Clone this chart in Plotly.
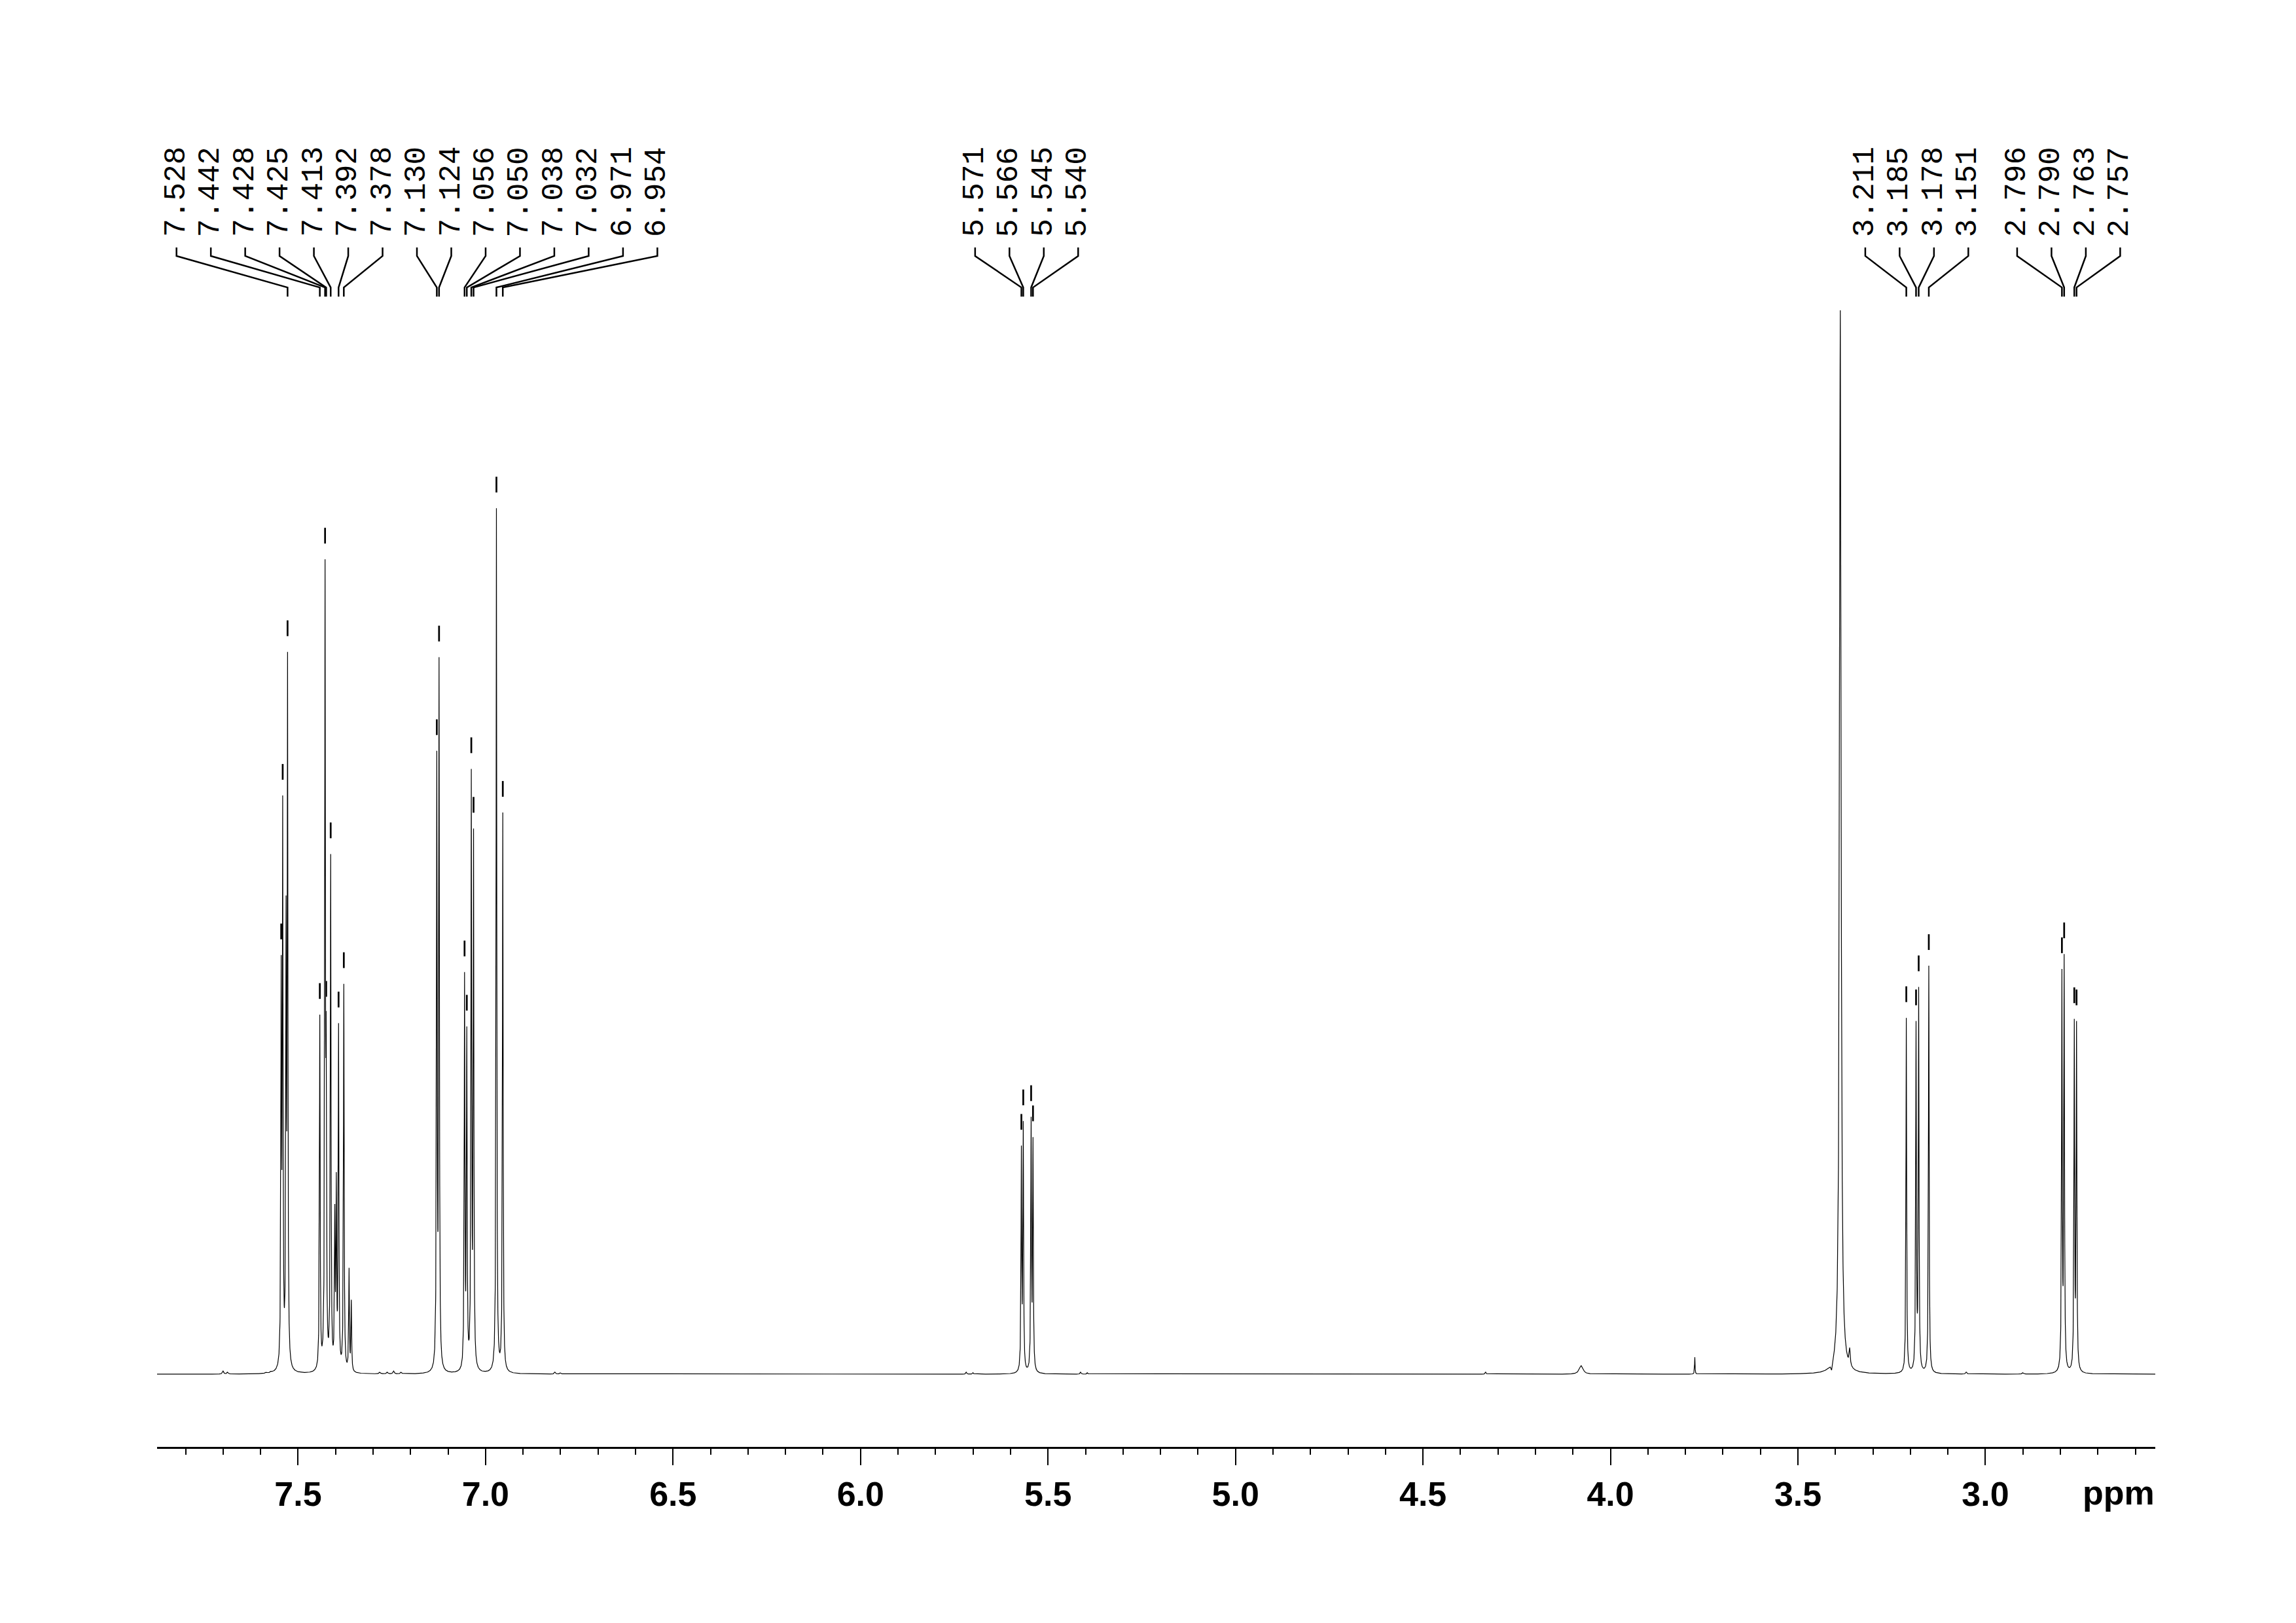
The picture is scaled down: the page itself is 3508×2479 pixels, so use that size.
import numpy as np
import plotly.graph_objects as go

# ---------------- data ----------------
# labelled (picked) multiplet lines, ppm and apparent heights (tallest peak = 1)
arom_a_ppm = [7.545, 7.541, 7.528, 7.442, 7.428, 7.425, 7.413, 7.392, 7.378]
arom_a_h   = [0.394, 0.544, 0.679, 0.338, 0.766, 0.340, 0.489, 0.330, 0.367]
arom_b_ppm = [7.130, 7.124, 7.056, 7.050, 7.038, 7.032, 6.971, 6.954]
arom_b_h   = [0.586, 0.674, 0.378, 0.327, 0.569, 0.513, 0.814, 0.528]
vinyl_ppm  = [5.571, 5.566, 5.545, 5.540]
vinyl_h    = [0.215, 0.238, 0.242, 0.223]
ch2a_ppm   = [3.211, 3.185, 3.178, 3.151]
ch2a_h     = [0.335, 0.332, 0.364, 0.384]
ch2b_ppm   = [2.796, 2.790, 2.763, 2.757]
ch2b_h     = [0.381, 0.395, 0.334, 0.332]

# unlabelled lines inside the aromatic multiplets
extra_ppm = [7.532, 7.402, 7.398, 7.364, 7.358]
extra_h   = [0.450, 0.160, 0.190, 0.100, 0.070]

# water signal and its shoulder, small impurity / baseline signals
water_ppm = [3.387, 3.362, 3.410]
water_h   = [1.000, 0.025, 0.004]
water_w   = [0.0049, 0.0035, 0.0040]
minor_ppm = [4.078, 3.775, 4.333, 5.718, 5.700, 5.413, 5.395, 7.700, 7.688,
             7.585, 7.572, 7.282, 7.262, 7.245, 7.225, 6.815, 6.800, 3.051, 2.900]
minor_h   = [0.008, 0.016, 0.002, 0.002, 0.0015, 0.002, 0.0015, 0.003, 0.002,
             0.002, 0.003, 0.002, 0.002, 0.003, 0.002, 0.002, 0.0015, 0.002, 0.0015]
minor_w   = [0.012, 0.0015, 0.003, 0.003, 0.003, 0.003, 0.003, 0.004, 0.004,
             0.004, 0.004, 0.004, 0.004, 0.004, 0.004, 0.004, 0.004, 0.004, 0.004]
line_w = 0.0021   # FWHM of the multiplet lines (ppm)

# label groups (in reference order) and the centre of each label fan
label_groups = [arom_a_ppm[2:] + arom_b_ppm, vinyl_ppm, ch2a_ppm, ch2b_ppm]
group_centres = [7.183, 5.557, 3.183, 2.778]
marked_ppm = arom_a_ppm + arom_b_ppm + vinyl_ppm + ch2a_ppm + ch2b_ppm

major_ticks = [7.5, 7.0, 6.5, 6.0, 5.5, 5.0, 4.5, 4.0, 3.5, 3.0]
x_range = [7.876, 2.547]

# ---------------- build the spectrum ----------------
lab_ppm = arom_a_ppm + arom_b_ppm + vinyl_ppm + ch2a_ppm + ch2b_ppm + extra_ppm
lab_h = arom_a_h + arom_b_h + vinyl_h + ch2a_h + ch2b_h + extra_h
P = np.array(lab_ppm + water_ppm + minor_ppm)
H = np.array(lab_h + water_h + minor_h)
W = np.array([line_w] * len(lab_ppm) + water_w + minor_w)


def lorentz(x, p, w):
    return 1.0 / (1.0 + (2.0 * (x - p) / w) ** 2)


# amplitudes so that the summed spectrum passes through the read heights
A = lorentz(P[:, None], P[None, :], W[None, :])
amp = np.linalg.solve(A, H)


def spectrum(x):
    x = np.asarray(x, dtype=float)
    return (amp[None, :] * lorentz(x[:, None], P[None, :], W[None, :])).sum(axis=1)


grid = np.union1d(np.arange(x_range[1], x_range[0], 0.0002), P)
ys = np.concatenate([spectrum(grid[i:i + 4000]) for i in range(0, len(grid), 4000)])

fig = go.Figure()
fig.add_trace(go.Scatter(x=grid, y=ys, mode="lines",
                         line=dict(color="black", width=1.2), hoverinfo="skip"))

# peak marks above each picked line
gap, mlen = 0.0148, 0.0148
mv = spectrum(marked_ppm)
mx, my = [], []
for p, v in zip(marked_ppm, mv):
    mx += [p, p, None]
    my += [v + gap, v + gap + mlen, None]
fig.add_trace(go.Scatter(x=mx, y=my, mode="lines",
                         line=dict(color="black", width=2.7), hoverinfo="skip"))

# label fans
spacing = 0.0916
y_top, y_knee, y_foot, y_bot, y_text = 1.0591, 1.0511, 1.0215, 1.0129, 1.1114
bx, by = [], []
annotations = []
for peaks, c in zip(label_groups, group_centres):
    n = len(peaks)
    for i, p in enumerate(peaks):
        lx = c + ((n - 1) / 2 - i) * spacing
        bx += [lx, lx, p, p, None]
        by += [y_top, y_knee, y_foot, y_bot, None]
        annotations.append(dict(x=lx, y=y_text, xref="x", yref="y", text=f"{p:.3f}",
                                textangle=-90, showarrow=False, xanchor="center",
                                yanchor="middle",
                                font=dict(family="Liberation Mono", size=46, color="black")))
fig.add_trace(go.Scatter(x=bx, y=by, mode="lines",
                         line=dict(color="black", width=2.5), hoverinfo="skip"))

annotations.append(dict(x=0.9815, y=-0.034, xref="paper", yref="paper", text="ppm",
                        showarrow=False, xanchor="center", yanchor="middle",
                        font=dict(family="Liberation Sans", size=52, color="black",
                                  weight="bold")))

# the page body adds an 8 px offset, so the figure is 8 px smaller
fig.update_layout(
    width=3500, height=2471,
    margin=dict(l=232, r=215, t=142, b=269),
    paper_bgcolor="white", plot_bgcolor="white",
    showlegend=False,
    annotations=annotations,
    xaxis=dict(range=x_range, showline=True, linecolor="black", linewidth=2.5,
               showgrid=False, zeroline=False, ticks="outside", ticklen=25,
               tickwidth=2, tickcolor="black", tickvals=major_ticks, tickformat=".1f",
               tickfont=dict(family="Liberation Sans", size=52, color="black",
                             weight="bold"),
               minor=dict(dtick=0.1, tick0=0, ticks="outside", ticklen=9,
                          tickwidth=2, tickcolor="black", showgrid=False)),
    yaxis=dict(range=[-0.0683, 1.1994], visible=False, showgrid=False,
               zeroline=False),
)

fig.write_html("out.html")
